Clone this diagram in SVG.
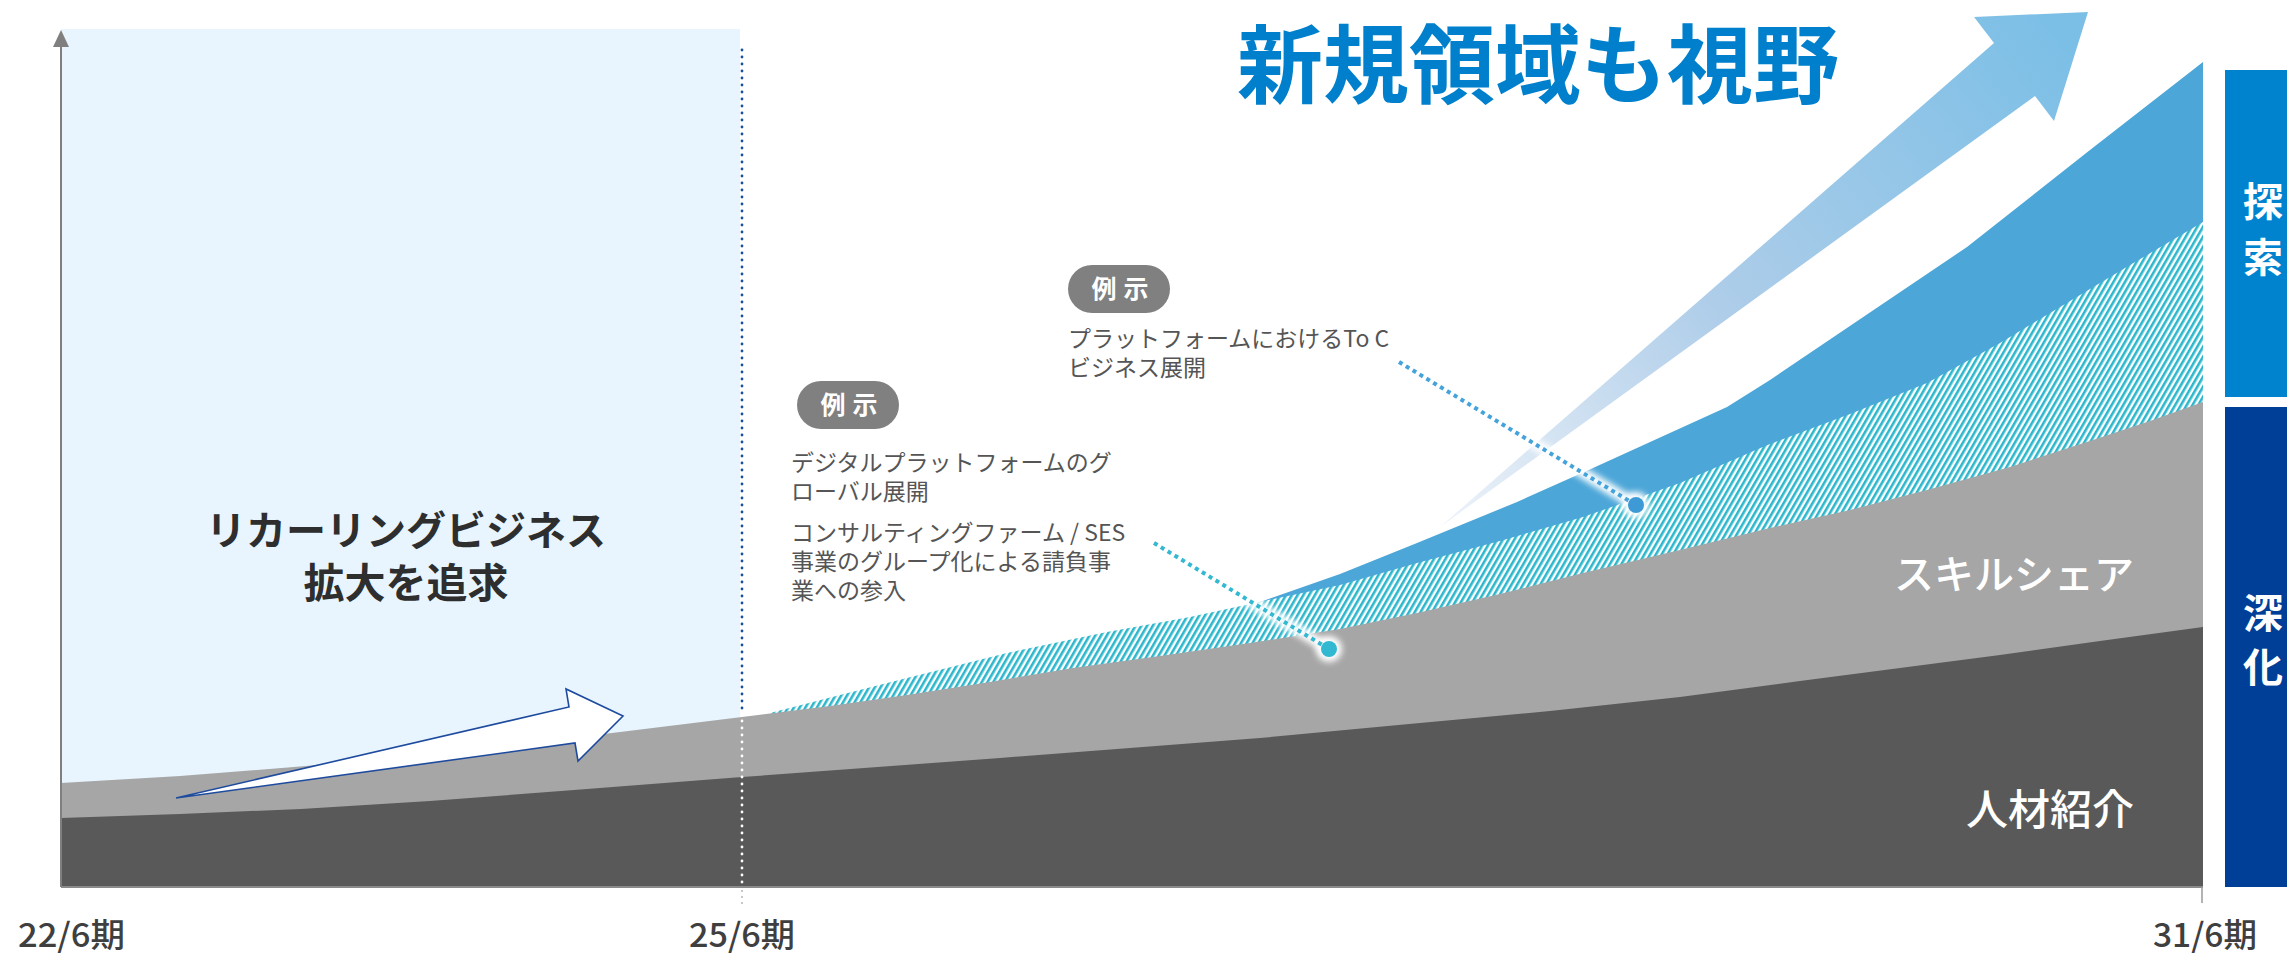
<svg xmlns="http://www.w3.org/2000/svg" width="2287" height="953" viewBox="0 0 2287 953">
  <style>
    text { font-family: 'Noto Sans CJK JP', 'Noto Sans', sans-serif; }
    .axis-label { font-size: 33px; fill: #3f3f3f; font-weight: 500; }
    .note { font-size: 23px; fill: #555555; }
    .pill-text { font-size: 25px; fill: #ffffff; font-weight: 700; text-anchor: middle; }
    .side { font-size: 40px; fill: #ffffff; font-weight: 700; }
    .band { font-size: 40px; fill: #ffffff; font-weight: 500; text-anchor: end; }
  </style>
  <defs>
    <pattern id="hatch" width="5" height="5" patternUnits="userSpaceOnUse" patternTransform="rotate(30)">
      <rect width="5" height="5" fill="#ffffff"/>
      <rect width="2.6" height="5" fill="#2db7cc"/>
    </pattern>
    <linearGradient id="bigArrow" gradientUnits="userSpaceOnUse" x1="1440" y1="527" x2="2060" y2="40">
      <stop offset="0" stop-color="#eef3f9"/>
      <stop offset="0.45" stop-color="#aecde9"/>
      <stop offset="1" stop-color="#7cbfe6"/>
    </linearGradient>
    <filter id="glow" x="-20%" y="-20%" width="140%" height="140%">
      <feGaussianBlur stdDeviation="3"/>
    </filter>
  </defs>

  <!-- background zone -->
  <rect id="recurring-zone" x="61" y="29" width="679" height="858" fill="#e8f5fe"/>

  <!-- stacked areas -->
  <g id="area-explore">
    <path d="M1260,602 L1340,574 L1417,543 L1517,502 L1593,468 L1727,407 L1770,380 L1967,247 L2090,150 L2203,62 L2203,887 L1260,887 Z" fill="#4ca6d8"/>
  </g>
  <g id="area-hatched">
    <path d="M770,713 L840,695 L907,678 L1007,653 L1107,632 L1190,617 L1250,604 L1340,585 L1417,563 L1500,541 L1583,517 L1680,483 L1765,446 L1850,414 L1927,383 L2000,343 L2060,307 L2130,265 L2203,222 L2203,887 L770,887 Z" fill="url(#hatch)"/>
  </g>
  <g id="area-skillshare">
    <path d="M61,783 L180,776 L306,766 L460,750 L612,733 L742,717 L830,706 L907,695 L990,682 L1073,668 L1160,656 L1250,643 L1340,629 L1417,613 L1500,594 L1583,573 L1680,550 L1770,528 L1850,510 L1927,490 L2010,467 L2093,440 L2150,421 L2203,402 L2203,887 L61,887 Z" fill="#a6a6a6"/>
    <text class="band" x="2134" y="589">スキルシェア</text>
  </g>
  <g id="area-recruit">
    <path d="M61,818 L180,814 L301,809 L430,801 L561,791 L742,777 L1000,758 L1260,738 L1420,723 L1550,711 L1680,697 L1800,681 L1900,668 L2000,655 L2100,641 L2203,627 L2203,887 L61,887 Z" fill="#595959"/>
    <text class="band" x="2134" y="825" style="font-size:42px">人材紹介</text>
  </g>

  <!-- big growth arrow -->
  <g id="growth-arrow">
    <polygon points="1440,527 1994,43 1974,17 2088,12 2054,121 2035,96" fill="url(#bigArrow)"/>
  </g>

  <!-- axes and dividers -->
  <g id="axes">
    <line x1="61" y1="887" x2="2203" y2="887" stroke="#8a8a8a" stroke-width="2"/>
    <line x1="61" y1="887" x2="61" y2="44" stroke="#7f7f7f" stroke-width="2"/>
    <polygon points="61,30 53,47 69,47" fill="#7f7f7f"/>
    <line x1="2202" y1="887" x2="2202" y2="903" stroke="#9a9a9a" stroke-width="1.5"/>
    <line x1="742" y1="50" x2="742" y2="714" stroke="#1a4f9f" stroke-width="2.8" stroke-linecap="round" stroke-dasharray="0 7"/>
    <line x1="742" y1="721" x2="742" y2="884" stroke="#ffffff" stroke-width="2.8" stroke-linecap="round" stroke-dasharray="0 7"/>
    <line x1="742" y1="891" x2="742" y2="907" stroke="#b5b5b5" stroke-width="2" stroke-linecap="round" stroke-dasharray="0 6"/>
  </g>

  <!-- recurring arrow -->
  <g id="recurring-arrow">
    <polygon points="176,798 569,707 566,689 623,716 578,761 575,743" fill="#ffffff" stroke="#1e4b9e" stroke-width="1.6" stroke-linejoin="miter"/>
  </g>

  <g id="recurring-label">
    <text x="406" y="545" text-anchor="middle" style="font-size:40px;font-weight:700;fill:#2e2e2e">リカーリングビジネス</text>
    <text x="406" y="598" text-anchor="middle" style="font-size:41px;font-weight:700;fill:#2e2e2e">拡大を追求</text>
  </g>

  <g id="title">
    <text x="1237" y="97" style="font-size:86px;font-weight:700;fill:#0080cc">新規領域も視野</text>
  </g>

  <!-- x labels -->
  <g id="x-labels">
    <text class="axis-label" x="18" y="947" textLength="107" lengthAdjust="spacingAndGlyphs">22/6期</text>
    <text class="axis-label" x="689" y="947" textLength="106" lengthAdjust="spacingAndGlyphs">25/6期</text>
    <text class="axis-label" x="2153" y="947" textLength="104" lengthAdjust="spacingAndGlyphs">31/6期</text>
  </g>

  <!-- example 1 -->
  <g id="example-toc">
    <rect x="1068" y="265" width="102" height="48" rx="24" fill="#808080"/>
    <text class="pill-text" x="1104" y="298">例</text>
    <text class="pill-text" x="1136" y="298">示</text>
    <text class="note" x="1068" y="347">プラットフォームにおけるTo C</text>
    <text class="note" x="1068" y="376">ビジネス展開</text>
  </g>

  <!-- example 2 -->
  <g id="example-global">
    <rect x="797" y="381" width="102" height="48" rx="24" fill="#808080"/>
    <text class="pill-text" x="833" y="414">例</text>
    <text class="pill-text" x="865" y="414">示</text>
    <text class="note" x="791" y="471">デジタルプラットフォームのグ</text>
    <text class="note" x="791" y="500">ローバル展開</text>
    <text class="note" x="791" y="541">コンサルティングファーム / SES</text>
    <text class="note" x="791" y="570">事業のグループ化による請負事</text>
    <text class="note" x="791" y="599">業への参入</text>
  </g>

  <!-- connectors -->
  <g id="connectors">
    <line x1="1154" y1="543" x2="1329" y2="649" stroke="#ffffff" stroke-width="11" stroke-linecap="round" filter="url(#glow)"/>
    <circle cx="1329" cy="649" r="13" fill="#ffffff" filter="url(#glow)"/>
    <line x1="1154" y1="543" x2="1329" y2="649" stroke="#33b8d2" stroke-width="4" stroke-dasharray="4 4"/>
    <circle cx="1329" cy="649" r="8" fill="#33b8d2"/>

    <line x1="1399" y1="362" x2="1636" y2="505" stroke="#ffffff" stroke-width="11" stroke-linecap="round" filter="url(#glow)"/>
    <circle cx="1636" cy="505" r="13" fill="#ffffff" filter="url(#glow)"/>
    <line x1="1399" y1="362" x2="1636" y2="505" stroke="#45a3db" stroke-width="4" stroke-dasharray="4 4"/>
    <circle cx="1636" cy="505" r="8" fill="#3d9ad5"/>
  </g>

  <!-- side labels -->
  <g id="side-explore">
    <rect x="2225" y="70" width="62" height="327" fill="#0083cf"/>
    <text class="side" x="2243" y="216">探</text>
    <text class="side" x="2243" y="272">索</text>
  </g>
  <g id="side-deepen">
    <rect x="2225" y="407" width="62" height="480" fill="#003f98"/>
    <text class="side" x="2243" y="628">深</text>
    <text class="side" x="2243" y="682">化</text>
  </g>
</svg>
